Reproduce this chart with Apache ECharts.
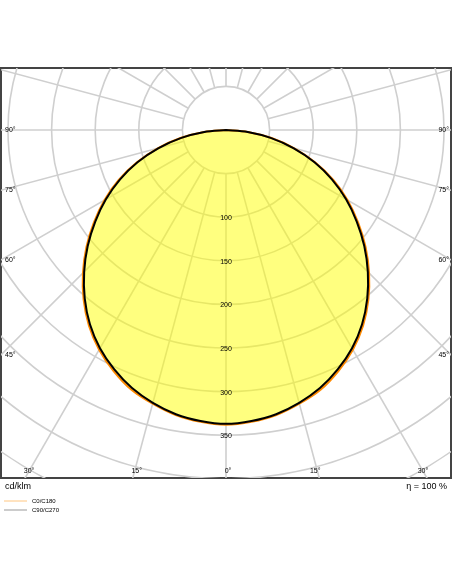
<!DOCTYPE html>
<html>
<head>
<meta charset="utf-8">
<script src="https://cdn.jsdelivr.net/npm/echarts@6/dist/echarts.min.js"></script>
<style>html, body { margin: 0; padding: 0; background: #fff; }</style>
</head>
<body>
<div id="main" style="width: 452px; height: 584px;"></div>
<script>
// gamma angles (deg from nadir) and luminous intensity, cd/klm
var gammaAngles = [0, 5, 10, 15, 20, 25, 30, 35, 40, 45, 50, 55, 60, 65, 70, 75, 80, 85, 90];
var c0c180 = [338, 336, 332, 325, 317, 305, 291, 274, 254, 232, 209, 185, 161, 136, 109, 81, 53, 25, 0];
var c90c270 = [337, 335, 331, 324, 315, 303, 289, 272, 252, 230, 207, 183, 159, 134, 108, 80, 52, 25, 0];

var ringValues = [50, 100, 150, 200, 250, 300, 350, 400, 450, 500];
var spokeAngles = [0, 15, 30, 45, 60, 75, 90, 105, 120, 135, 150, 165, 180, 195, 210, 225, 240, 255, 270, 285, 300, 315, 330, 345];
var radiusTicks = [100, 150, 200, 250, 300, 350];
var sideTicks = [90, 75, 60, 45];
var bottomTicks = [-30, -15, 0, 15, 30];

var font = '"Liberation Sans", Arial, sans-serif';
var chart = echarts.init(document.getElementById('main'));

// angle from nadir (negative = left half) -> x/y in cd/klm, y grows downwards
function toXY(angle, value) {
    var a = angle * Math.PI / 180;
    return [value * Math.sin(a), value * Math.cos(a)];
}

function curvePoints(values, api) {
    var pts = [];
    for (var i = gammaAngles.length - 1; i >= 0; i--) {
        pts.push(api.coord(toXY(-gammaAngles[i], values[i])));
    }
    for (var j = 1; j < gammaAngles.length; j++) {
        pts.push(api.coord(toXY(gammaAngles[j], values[j])));
    }
    return pts;
}

function clipRect(params) {
    var cs = params.coordSys;
    return {type: 'rect', shape: {x: cs.x, y: cs.y, width: cs.width, height: cs.height}};
}

var option = {
    animation: false,
    grid: {
        left: 1, right: 1, top: 68, bottom: 106,
        show: true,
        borderColor: '#444',
        borderWidth: 2,
        backgroundColor: '#fff',
        z: 0
    },
    xAxis: {
        type: 'value', min: -258, max: 258,
        show: false
    },
    yAxis: {
        type: 'value', min: -71.1, max: 399.1, inverse: true,
        show: false
    },
    series: [{
        // polar grid: rings and spokes
        type: 'custom',
        clip: true,
        z: 1,
        data: [[0, 0]],
        renderItem: function (params, api) {
            var c = api.coord([0, 0]);
            var children = [];
            ringValues.forEach(function (r) {
                children.push({
                    type: 'circle',
                    shape: {cx: c[0], cy: c[1], r: api.size([r, 0])[0]},
                    style: {fill: null, stroke: '#cfcfcf', lineWidth: 1.6}
                });
            });
            spokeAngles.forEach(function (a) {
                var p0 = api.coord(toXY(a, ringValues[0]));
                var p1 = api.coord(toXY(a, 800));
                children.push({
                    type: 'line',
                    shape: {x1: p0[0], y1: p0[1], x2: p1[0], y2: p1[1]},
                    style: {stroke: '#cfcfcf', lineWidth: 1.6}
                });
            });
            return {type: 'group', clipPath: clipRect(params), children: children};
        }
    }, {
        name: 'C0/C180',
        type: 'custom',
        z: 2,
        data: [[0, 0]],
        renderItem: function (params, api) {
            var pts = curvePoints(c0c180, api);
            return {
                type: 'polygon',
                shape: {points: pts, smooth: 0.3},
                style: {fill: 'rgba(255, 255, 0, 0.5)', stroke: '#ff8a00', lineWidth: 2}
            };
        }
    }, {
        name: 'C90/C270',
        type: 'custom',
        z: 3,
        data: [[0, 0]],
        renderItem: function (params, api) {
            var pts = curvePoints(c90c270, api);
            return {
                type: 'polygon',
                shape: {points: pts, smooth: 0.3},
                style: {fill: null, stroke: '#000', lineWidth: 2}
            };
        }
    }, {
        // scale labels
        type: 'custom',
        z: 4,
        data: [[0, 0]],
        renderItem: function (params, api) {
            var cs = params.coordSys;
            var children = [];
            radiusTicks.forEach(function (r) {
                var p = api.coord([0, r]);
                children.push({
                    type: 'text',
                    style: {text: String(r), x: p[0], y: p[1] + 1, align: 'center', verticalAlign: 'middle',
                        font: '7px ' + font, fill: '#000'}
                });
            });
            var c = api.coord([0, 0]);
            sideTicks.forEach(function (a) {
                var d = toXY(a, 1);
                var yl = c[1] + (c[0] - cs.x) * d[1] / d[0];
                children.push({
                    type: 'text',
                    style: {text: a + '°', x: cs.x + 4, y: yl, align: 'left', verticalAlign: 'middle',
                        font: '7px ' + font, fill: '#000'}
                });
                children.push({
                    type: 'text',
                    style: {text: a + '°', x: cs.x + cs.width - 2, y: yl, align: 'right', verticalAlign: 'middle',
                        font: '7px ' + font, fill: '#000'}
                });
            });
            bottomTicks.forEach(function (a) {
                var d = toXY(a, 1);
                var yb = cs.y + cs.height;
                var xb = c[0] + (yb - c[1]) * d[0] / d[1];
                children.push({
                    type: 'text',
                    style: {text: Math.abs(a) + '°', x: xb + (a < 0 ? 4 : a > 0 ? -4 : 2), y: yb - 7,
                        align: 'center', verticalAlign: 'middle', font: '7px ' + font, fill: '#000'}
                });
            });
            return {type: 'group', children: children};
        }
    }],
    graphic: [
        {type: 'text', left: 5, top: 482, style: {text: 'cd/klm', font: '9px ' + font, fill: '#000'}},
        {type: 'text', right: 5, top: 482, style: {text: 'η = 100 %', font: '9px ' + font, fill: '#000'}},
        {type: 'line', shape: {x1: 4, y1: 501, x2: 27, y2: 501}, style: {stroke: '#ffc680', lineWidth: 1}},
        {type: 'text', left: 32, top: 498, style: {text: 'C0/C180', font: '6px ' + font, fill: '#000'}},
        {type: 'line', shape: {x1: 4, y1: 510, x2: 27, y2: 510}, style: {stroke: '#999', lineWidth: 1}},
        {type: 'text', left: 32, top: 507, style: {text: 'C90/C270', font: '6px ' + font, fill: '#000'}}
    ]
};

chart.setOption(option);
</script>
</body>
</html>
